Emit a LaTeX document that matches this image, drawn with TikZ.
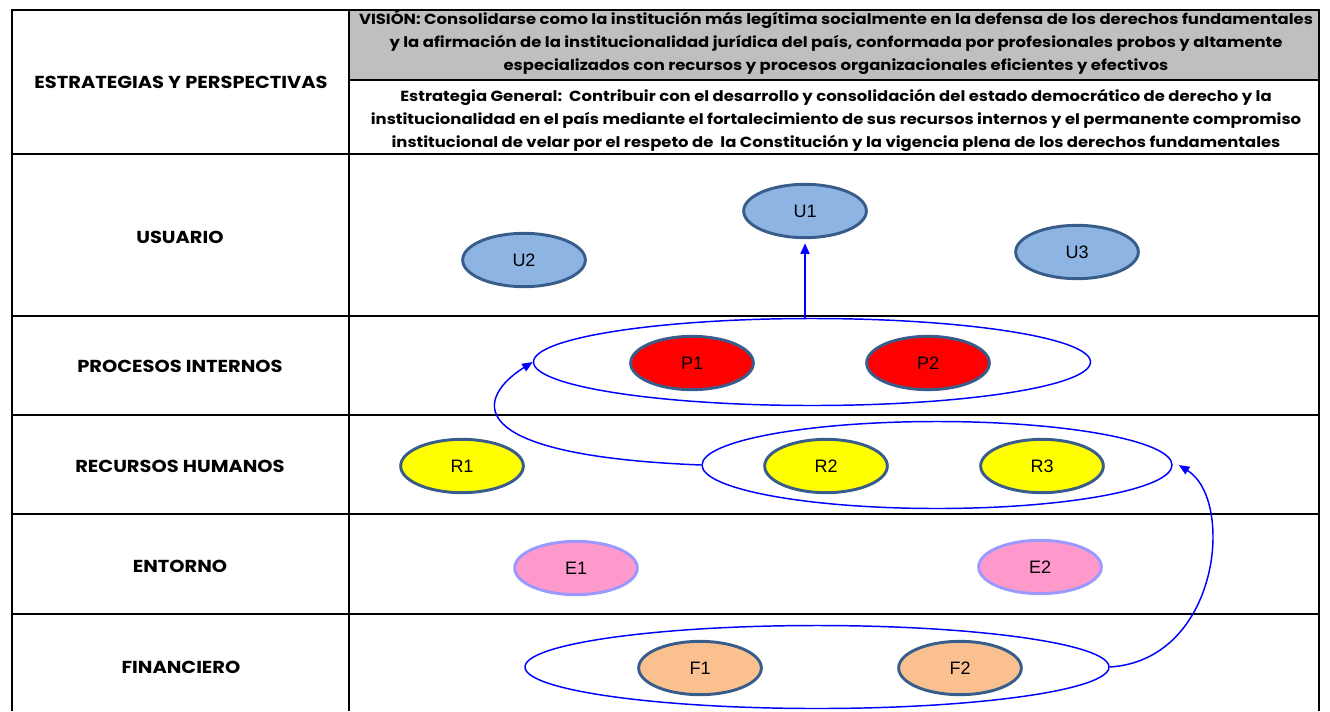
\documentclass[tikz,border=0pt]{standalone}
\usepackage{fontspec}
\setmainfont{Poppins}
\newfontfamily\hdrfont[FakeStretch=1.12]{Poppins}
\newfontfamily\labelfont{Liberation Sans}
\usetikzlibrary{shapes.geometric,arrows.meta}
\definecolor{ublue}{RGB}{141,180,226}
\definecolor{ovedge}{RGB}{56,93,138}
\definecolor{pred}{RGB}{255,0,0}
\definecolor{ryel}{RGB}{255,255,0}
\definecolor{epink}{RGB}{255,153,204}
\definecolor{eedge}{RGB}{153,153,255}
\definecolor{forange}{RGB}{250,192,144}
\definecolor{hgray}{RGB}{191,191,191}
\definecolor{gblue}{RGB}{0,0,255}
\begin{document}
\begin{tikzpicture}[x=0.75pt,y=-0.75pt,
  oval/.style={ellipse, draw=ovedge, line width=2.2pt, minimum width=92pt, minimum height=40pt, inner sep=0pt, font=\labelfont\fontsize{13.5}{15}\selectfont},
  grp/.style={ellipse, draw=gblue, line width=1.1pt, inner sep=0pt},
  conn/.style={draw=gblue, line width=1.1pt, -{Triangle[length=8pt,width=6.5pt]}},
  rowlabel/.style={font=\hdrfont\bfseries\fontsize{13}{15}\selectfont, inner sep=0pt},
  hdrtext/.style={font=\hdrfont\bfseries\fontsize{11}{17.25}\selectfont, align=center, inner sep=0pt},
  tline/.style={line width=1.8pt}]
\useasboundingbox (0,0) rectangle (1330,711);
% table
\fill[hgray] (349,10) rectangle (1319,80);
\draw[tline] (12,711) -- (12,10) -- (1319,10) -- (1319,711);
\draw[tline] (349,10) -- (349,711);
\draw[tline] (349,80) -- (1319,80);
\foreach \yy in {154,316,415,514,614} \draw[tline] (12,\yy) -- (1319,\yy);
% texts
\node[rowlabel] (hdr) at (181,82) {ESTRATEGIAS Y PERSPECTIVAS};
\node[rowlabel] (lu) at (180,237) {USUARIO};
\node[rowlabel] (lp) at (180,366) {PROCESOS INTERNOS};
\node[rowlabel] (lr) at (180,466) {RECURSOS HUMANOS};
\node[rowlabel] (le) at (180,566) {ENTORNO};
\node[rowlabel] (lf) at (181,667) {FINANCIERO};
\node[hdrtext] (vision) at (836,42) {VISIÓN: Consolidarse como la institución más legítima socialmente en la defensa de los derechos fundamentales\\ y la afirmación de la institucionalidad jurídica del país, conformada por profesionales probos y altamente\\ especializados con recursos y procesos organizacionales eficientes y efectivos};
\node[hdrtext] (estr) at (836,120) {Estrategia General:\ \ Contribuir con el desarrollo y consolidación del estado democrático de derecho y la\\ institucionalidad en el país mediante el fortalecimiento de sus recursos internos y el permanente compromiso\\ institucional de velar por el respeto de\ \ la Constitución y la vigencia plena de los derechos fundamentales};
% group ellipses
\node[grp, minimum width=417.75pt, minimum height=65.25pt] (pg) at (812,362) {};
\node[grp, minimum width=352.5pt, minimum height=65.25pt] (rg) at (937,465) {};
\node[grp, minimum width=438pt, minimum height=62.25pt] (fg) at (817,667) {};
% ovals
\node[oval, fill=ublue] (u1) at (805,211) {U1};
\node[oval, fill=ublue] (u2) at (524,260) {U2};
\node[oval, fill=ublue] (u3) at (1077,252) {U3};
\node[oval, fill=pred] (p1) at (692,363) {P1};
\node[oval, fill=pred] (p2) at (928,363) {P2};
\node[oval, fill=ryel] (r1) at (462,466) {R1};
\node[oval, fill=ryel] (r2) at (826,466) {R2};
\node[oval, fill=ryel] (r3) at (1042,466) {R3};
\node[oval, fill=epink, draw=eedge] (e1) at (576,568) {E1};
\node[oval, fill=epink, draw=eedge] (e2) at (1040,567) {E2};
\node[oval, fill=forange] (f1) at (700,668) {F1};
\node[oval, fill=forange] (f2) at (960,668) {F2};
% connectors
\draw[conn, line width=1.8pt] (u1.south |- pg.north) -- ([yshift=-3pt]u1.south);
\draw[conn] (rg.west) .. controls (450,455) and (480,395) .. (pg.west);
\draw[conn] (fg.east) .. controls (1220,660) and (1235,500) .. ([xshift=4.5pt]rg.east);
\end{tikzpicture}
\end{document}
